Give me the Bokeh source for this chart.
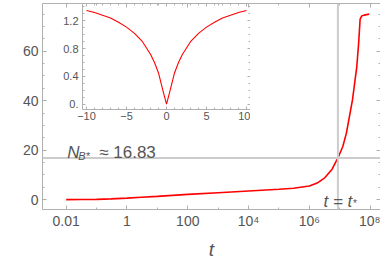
from bokeh.plotting import figure
from bokeh.models import FixedTicker, LinearAxis, LogAxis, Span, Label, Range1d
from bokeh.layouts import column
from bokeh.embed import file_html
from bokeh.resources import INLINE

# ---------------- data ----------------
t_vals = [1e-2, 3e-2, 1e-1, 3e-1, 1.0, 3.0, 1e1, 1e2, 1e3, 1e4, 1e5, 3e5, 1e6,
          1.8e6, 3.2e6, 5.6e6, 8.7e6, 1.26e7, 1.66e7, 2.63e7, 3.63e7, 4.17e7,
          4.68e7, 5.25e7, 6.3e7, 9.3e7]
NB_vals = [0.0, 0.02, 0.08, 0.3, 0.6, 0.95, 1.3, 2.1, 2.8, 3.5, 4.2, 4.6, 5.5,
           6.7, 8.8, 12.3, 16.83, 21.5, 27.0, 40.4, 53.7, 63.0,
           73.0, 74.2, 74.6, 75.0]

NB_star = 16.83
t_star = 8.7e6

inset_x = [-10, -9, -8, -7, -6, -5, -4, -3, -2, -1.5, -1, -0.5, -0.25, 0,
           0.25, 0.5, 1, 1.5, 2, 3, 4, 5, 6, 7, 8, 9, 10]
inset_y = [1.35, 1.32, 1.28, 1.24, 1.18, 1.11, 1.02, 0.90, 0.72, 0.60, 0.45, 0.22, 0.11, 0.0,
           0.11, 0.22, 0.45, 0.60, 0.72, 0.90, 1.02, 1.11, 1.18, 1.24, 1.28, 1.32, 1.35]

x_major = [1e-2, 1.0, 1e2, 1e4, 1e6, 1e8]
x_minor = [1e-3, 1e-2, 1e-1, 1.0, 1e1, 1e2, 1e3, 1e4, 1e5, 1e6, 1e7, 1e8]
x_labels = ["0.01", "1", "100", "10\u2074", "10\u2076", "10\u2078"]
y_major = [0, 20, 40, 60]
y_minor = [-5, 0, 5, 10, 15, 20, 25, 30, 35, 40, 45, 50, 55, 60, 65, 70, 75, 80]
y_labels = ["0", "20", "40", "60"]

ix_major = [-10, -5, 0, 5, 10]
ix_minor = list(range(-11, 12))
ix_labels = ["\u221210", "\u22125", "0", "5", "10"]
iy_major = [0.0, 0.4, 0.8, 1.2]
iy_minor = [-0.1, 0.0, 0.1, 0.2, 0.3, 0.4, 0.5, 0.6, 0.7, 0.8, 0.9, 1.0, 1.1, 1.2, 1.3, 1.4, 1.5]
iy_labels = ["0.", "0.4", "0.8", "1.2"]

# ---------------- style ----------------
FRAME = "#b0b0b0"
TXT = "#555555"
REF = "#cccccc"
FONT = "Liberation Sans"
RED = "#ff0000"

W = 380
H = 262


def style_axis(ax, ticks, minors, labels=None, size="14px", standoff=3, in_major=4, in_minor=2):
    ax.ticker = FixedTicker(ticks=ticks, minor_ticks=minors)
    ax.axis_line_color = FRAME
    ax.axis_line_width = 1
    ax.major_tick_line_color = FRAME
    ax.minor_tick_line_color = FRAME
    ax.major_tick_in = in_major
    ax.major_tick_out = 0
    ax.minor_tick_in = in_minor
    ax.minor_tick_out = 0
    if labels is None:
        ax.major_label_overrides = {float(k): "" for k in ticks}
        ax.major_label_text_font_size = "1px"
        ax.major_label_text_alpha = 0
        ax.major_label_standoff = 0
        ax.axis_label_standoff = 0
    else:
        ax.major_label_overrides = {float(k): v for k, v in zip(ticks, labels)}
        ax.major_label_text_font = FONT
        ax.major_label_text_font_size = size
        ax.major_label_text_color = TXT
        ax.major_label_standoff = standoff


# ---------------- main figure ----------------
p = figure(width=W, height=H, x_axis_type="log",
           x_range=Range1d(1.66e-3, 2.19e8), y_range=Range1d(-4.0, 79.3),
           min_border_left=42, min_border_right=0, min_border_top=3, min_border_bottom=49,
           toolbar_location=None, output_backend="svg", outline_line_color=None,
           background_fill_color="white", border_fill_color="white")
p.grid.visible = False

style_axis(p.xaxis[0], x_major, x_minor, x_labels, size="14px", standoff=3)
style_axis(p.yaxis[0], y_major, y_minor, y_labels, size="14px", standoff=4)
p.xaxis[0].axis_label = "t"
p.xaxis[0].axis_label_text_font = FONT
p.xaxis[0].axis_label_text_font_style = "italic"
p.xaxis[0].axis_label_text_font_size = "19px"
p.xaxis[0].axis_label_text_color = TXT
p.xaxis[0].axis_label_standoff = 7

top_ax = LogAxis()
style_axis(top_ax, x_major, x_minor)
p.add_layout(top_ax, "above")
right_ax = LinearAxis()
style_axis(right_ax, y_major, y_minor)
p.add_layout(right_ax, "right")

p.add_layout(Span(location=NB_star, dimension="width", line_color=REF, line_width=2))
p.add_layout(Span(location=t_star, dimension="height", line_color=REF, line_width=2))

p.line(t_vals, NB_vals, line_color=RED, line_width=1.6)

# y-axis label N_B
p.add_layout(Label(x=-41, y=36.5, x_units="screen", y_units="data", text="N",
                   text_font=FONT, text_font_style="italic", text_font_size="20px",
                   text_color=TXT, text_baseline="alphabetic"))
p.add_layout(Label(x=-28, y=34.0, x_units="screen", y_units="data", text="B",
                   text_font=FONT, text_font_style="italic", text_font_size="13px",
                   text_color=TXT, text_baseline="alphabetic"))

# annotation N_B* ≈ 16.83
ann_x = 1.0e-2
p.add_layout(Label(x=ann_x, y=NB_star, x_offset=1, y_offset=5, text="N",
                   text_font=FONT, text_font_style="italic", text_font_size="17px",
                   text_color=TXT, text_baseline="alphabetic"))
p.add_layout(Label(x=ann_x, y=NB_star, x_offset=12, y_offset=1.5, text="B*",
                   text_font=FONT, text_font_style="italic", text_font_size="11px",
                   text_color=TXT, text_baseline="alphabetic"))
p.add_layout(Label(x=ann_x, y=NB_star, x_offset=33, y_offset=5, text="\u2248 16.83",
                   text_font=FONT, text_font_size="17px",
                   text_color=TXT, text_baseline="alphabetic"))

# annotation t = t*
p.add_layout(Label(x=t_star, y=0, x_offset=0, y_offset=-2, text="t = t",
                   text_font=FONT, text_font_style="italic", text_font_size="17px",
                   text_color=TXT, text_baseline="alphabetic", text_align="center"))
p.add_layout(Label(x=t_star, y=0, x_offset=15, y_offset=-4, text="*",
                   text_font=FONT, text_font_size="10px",
                   text_color=TXT, text_baseline="alphabetic"))

# ---------------- inset ----------------
IW = 210
IH = 122
ins = figure(width=IW, height=IH,
             x_range=Range1d(-10.5, 10.5), y_range=Range1d(-0.076, 1.45),
             min_border_left=28, min_border_right=0, min_border_top=0, min_border_bottom=16,
             toolbar_location=None, output_backend="svg", outline_line_color=None,
             background_fill_alpha=0, border_fill_alpha=0)
ins.grid.visible = False
style_axis(ins.xaxis[0], ix_major, ix_minor, ix_labels, size="11px", standoff=2, in_major=3, in_minor=2)
style_axis(ins.yaxis[0], iy_major, iy_minor, iy_labels, size="11px", standoff=4, in_major=3, in_minor=2)
itop = LinearAxis()
style_axis(itop, ix_major, ix_minor, in_major=3, in_minor=2)
ins.add_layout(itop, "above")
iright = LinearAxis()
style_axis(iright, iy_major, iy_minor, in_major=3, in_minor=2)
ins.add_layout(iright, "right")
ins.line(inset_x, inset_y, line_color=RED, line_width=1.1)
# pull the inset up over the main plot; bottom margin keeps the column H px tall
top_off = 3
ins.margin = (top_off - H, 0, H - top_off - IH, 40)

layout = column(p, ins, spacing=0)
open("out.html", "w").write(file_html(layout, INLINE))
